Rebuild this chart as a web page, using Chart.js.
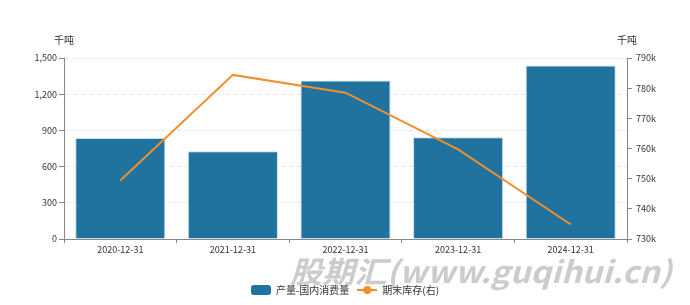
<!DOCTYPE html>
<html>
<head>
<meta charset="utf-8">
<script src="https://cdn.jsdelivr.net/npm/chart.js@4/dist/chart.umd.min.js"></script>
<style>
  html, body { margin: 0; padding: 0; background: #fff; }
  #wrap { width: 690px; height: 305px; }
</style>
</head>
<body>
<div id="wrap"><canvas id="chart" width="690" height="305"></canvas></div>
<script>
const categories = ['2020-12-31', '2021-12-31', '2022-12-31', '2023-12-31', '2024-12-31'];
const consumption = [838, 727, 1313, 844, 1438];
const inventory = [749400, 784400, 778500, 759700, 734800];
const seriesNames = ['产量-国内消费量', '期末库存(右)'];
const unitLabel = '千吨';

const BLUE = '#21739f';
const ORANGE = '#f28e2b';
const FONT = '"Noto Sans CJK SC", "Noto Sans", sans-serif';

// legend icons
function makeBoxIcon() {
  const c = document.createElement('canvas');
  c.width = 20; c.height = 10;
  const g = c.getContext('2d');
  g.fillStyle = BLUE;
  g.beginPath();
  g.roundRect(0, 0, 20, 10, 3);
  g.fill();
  return c;
}
function makeLineIcon() {
  const c = document.createElement('canvas');
  c.width = 20; c.height = 10;
  const g = c.getContext('2d');
  g.strokeStyle = ORANGE;
  g.lineWidth = 2;
  g.beginPath();
  g.moveTo(0, 5); g.lineTo(20, 5);
  g.stroke();
  g.fillStyle = ORANGE;
  g.beginPath();
  g.arc(10, 5, 4, 0, Math.PI * 2);
  g.fill();
  return c;
}

const extras = {
  id: 'extras',
  beforeDraw(chart) {
    const ctx = chart.ctx;
    ctx.save();
    // watermark
    const wm = '股期汇(www.guqihui.cn)';
    ctx.font = 'italic bold 30px ' + FONT;
    const w = ctx.measureText(wm).width;
    ctx.translate(290, 283);
    ctx.scale(382 / w, 1);
    ctx.fillStyle = '#cccccc';
    ctx.textBaseline = 'alphabetic';
    ctx.fillText(wm, 0, 0);
    ctx.restore();
  },
  afterDraw(chart) {
    const ctx = chart.ctx;
    const a = chart.chartArea;
    ctx.save();
    ctx.font = '10px ' + FONT;
    ctx.fillStyle = '#333';
    ctx.textAlign = 'center';
    ctx.textBaseline = 'middle';
    ctx.fillText(unitLabel, a.left, 40);
    ctx.fillText(unitLabel, a.right, 40);
    ctx.restore();
  }
};

new Chart(document.getElementById('chart'), {
  data: {
    labels: categories,
    datasets: [
      {
        type: 'line',
        label: seriesNames[1],
        data: inventory,
        yAxisID: 'y1',
        borderColor: ORANGE,
        backgroundColor: ORANGE,
        borderWidth: 2,
        pointRadius: 0,
        pointHoverRadius: 0,
        tension: 0,
        order: 0,
        pointStyle: makeLineIcon()
      },
      {
        type: 'bar',
        label: seriesNames[0],
        data: consumption,
        yAxisID: 'y',
        backgroundColor: BLUE,
        borderColor: 'rgba(190,215,230,0.9)',
        borderWidth: 1,
        categoryPercentage: 0.8,
        barPercentage: 1,
        order: 1,
        pointStyle: makeBoxIcon()
      }
    ]
  },
  options: {
    responsive: false,
    animation: false,
    layout: { padding: { top: 58, left: 0, right: 0, bottom: 0 } },
    plugins: {
      tooltip: { enabled: false },
      legend: {
        position: 'bottom',
        reverse: true,
        labels: {
          usePointStyle: true,
          pointStyleWidth: 20,
          boxHeight: 10,
          padding: 8,
          color: '#333',
          font: { family: FONT, size: 10 }
        }
      }
    },
    scales: {
      x: {
        grid: { display: true, drawOnChartArea: false, tickLength: 4, color: '#888' },
        border: { display: true, color: '#888' },
        ticks: { color: '#333', padding: 1, maxRotation: 0, font: { family: FONT, size: 9 } },
        afterFit(scale) { scale.height = 38; }
      },
      y: {
        position: 'left',
        min: 0,
        max: 1500,
        ticks: {
          stepSize: 300,
          color: '#333',
          padding: 2,
          font: { family: FONT, size: 9 },
          callback: v => v.toLocaleString('en-US')
        },
        grid: { color: '#e2e2e2', tickColor: '#888', tickLength: 5 },
        border: { display: true, color: '#888', dash: [4, 4] },
        afterFit(scale) { scale.width = 64; }
      },
      y1: {
        position: 'right',
        min: 730000,
        max: 790000,
        ticks: {
          stepSize: 10000,
          color: '#333',
          padding: 4,
          font: { family: FONT, size: 9 },
          callback: v => (v / 1000) + 'k'
        },
        grid: { drawOnChartArea: false, tickColor: '#888', tickLength: 5 },
        border: { display: true, color: '#888' },
        afterFit(scale) { scale.width = 63; }
      }
    }
  },
  plugins: [extras]
});
</script>
</body>
</html>
